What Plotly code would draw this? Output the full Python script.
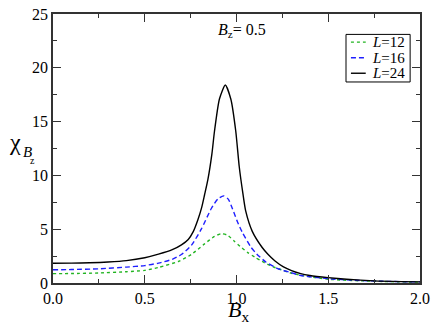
import plotly.graph_objects as go

# L=24 (black solid)
bx24 = [0.0, 0.1, 0.2, 0.3, 0.4, 0.5, 0.575, 0.65, 0.7, 0.737, 0.765, 0.79, 0.81, 0.826, 0.844, 0.866, 0.88,
        0.907, 0.939, 0.969, 0.996, 1.015, 1.035, 1.05, 1.086, 1.14, 1.17, 1.21, 1.256, 1.3, 1.35, 1.4, 1.5,
        1.6, 1.75, 1.9, 2.0]
chi24 = [1.83, 1.85, 1.88, 1.95, 2.08, 2.35, 2.68, 3.1, 3.55, 4.05, 4.8, 5.9, 7.0, 8.2, 9.6, 12.0, 14.1,
         17.1, 18.4, 17.1, 14.1, 10.8, 8.3, 6.7, 4.8, 3.3, 2.7, 2.05, 1.5, 1.15, 0.87, 0.7, 0.5,
         0.35, 0.2, 0.13, 0.1]

# L=16 (blue dashed)
bx16 = [0.0, 0.1, 0.25, 0.4, 0.5, 0.575, 0.65, 0.7, 0.754, 0.808, 0.862, 0.898, 0.93, 0.955, 0.978, 1.005,
        1.032, 1.08, 1.11, 1.16, 1.23, 1.29, 1.35, 1.5, 1.65, 1.8, 2.0]
chi16 = [1.23, 1.25, 1.32, 1.48, 1.62, 1.85, 2.2, 2.65, 3.5, 5.0, 6.9, 7.8, 8.1, 7.8, 6.9, 5.7,
         4.7, 3.3, 2.7, 1.95, 1.3, 1.0, 0.7, 0.4, 0.25, 0.16, 0.1]

# L=12 (green dotted)
bx12 = [0.0, 0.1, 0.25, 0.4, 0.5, 0.575, 0.683, 0.754, 0.826, 0.88, 0.915, 0.95, 0.987, 1.02, 1.06, 1.1,
        1.14, 1.2, 1.25, 1.3, 1.35, 1.5, 1.65, 1.8, 2.0]
chi12 = [0.87, 0.88, 0.93, 1.05, 1.17, 1.45, 2.0, 2.65, 3.64, 4.33, 4.58, 4.45, 3.9, 3.4, 2.85, 2.4,
         2.0, 1.5, 1.2, 0.9, 0.72, 0.35, 0.22, 0.14, 0.08]

labels = ["<i>L</i>=12", "<i>L</i>=16", "<i>L</i>=24"]
colors = ["#22b422", "#1f1fff", "#000000"]
dashes = ["dot", "5px,3px", "solid"]

FONT = "Times New Roman"
fig = go.Figure()
for xs, ys, lab, c, d in zip([bx12, bx16, bx24], [chi12, chi16, chi24], labels, colors, dashes):
    fig.add_trace(go.Scatter(x=xs, y=ys, mode="lines", name=lab,
                             line=dict(color=c, dash=d, width=1.4, shape="spline", smoothing=0.6),
                             showlegend=False))

W, H = 436, 327
L, R, T, B = 53, 11, 6, 44
pw, ph = W - L - R, H - T - B

def px(x): return (x - L) / pw
def py(y): return (H - B - y) / ph

shapes = []
annotations = []
# manual legend
lx0, lx1, ly0, ly1 = 350, 415, 27, 76
shapes.append(dict(type="rect", xref="paper", yref="paper", x0=px(lx0), x1=px(lx1), y0=py(ly1), y1=py(ly0),
                   line=dict(color="black", width=1), fillcolor="white", layer="above"))
rows = [35, 51, 67]
for r, lab, c, d in zip(rows, labels, colors, dashes):
    shapes.append(dict(type="line", xref="paper", yref="paper", x0=px(355), x1=px(370), y0=py(r), y1=py(r),
                       line=dict(color=c, dash=d, width=1.4), layer="above"))
    annotations.append(dict(text=lab, xref="paper", yref="paper", x=px(374), y=py(r), xanchor="left",
                            yanchor="middle", showarrow=False, font=dict(family=FONT, size=15, color="black")))

# B_z = 0.5 annotation
annotations.append(dict(text="<i>B</i><sub>z</sub>= 0.5", xref="paper", yref="paper", x=px(218), y=py(23),
                        xanchor="left", yanchor="middle", showarrow=False,
                        font=dict(family=FONT, size=16, color="black")))
# x axis title
annotations.append(dict(text="<i>B</i><sub>x</sub>", xref="paper", yref="paper", x=px(241), y=py(312),
                        xanchor="center", yanchor="middle", showarrow=False,
                        font=dict(family=FONT, size=22, color="black")))
# y axis title chi_{B_z}
annotations.append(dict(text="χ", xref="paper", yref="paper", x=px(14), y=py(138),
                        xanchor="center", yanchor="middle", showarrow=False,
                        font=dict(family=FONT, size=24, color="black")))
annotations.append(dict(text="<i>B</i>", xref="paper", yref="paper", x=px(27), y=py(148),
                        xanchor="center", yanchor="middle", showarrow=False,
                        font=dict(family=FONT, size=15, color="black")))
annotations.append(dict(text="z", xref="paper", yref="paper", x=px(32.5), y=py(157),
                        xanchor="center", yanchor="middle", showarrow=False,
                        font=dict(family=FONT, size=10, color="black")))

tickfont = dict(family=FONT, size=16, color="black")
axis_common = dict(showline=True, linecolor="#333333", linewidth=1.5, mirror="ticks", ticks="inside",
                   ticklen=8, tickwidth=1.2, tickcolor="#333333", showgrid=False, zeroline=False,
                   ticklabeloverflow="allow")
fig.update_layout(
    width=W, height=H, margin=dict(l=L, r=R, t=T, b=B),
    font=dict(family=FONT, color="black", size=16),
    plot_bgcolor="white", paper_bgcolor="white",
    xaxis=dict(range=[0, 2], dtick=0.5, tickformat=".1f",
               minor=dict(ticks="inside", ticklen=4, dtick=0.25, tickcolor="#333333", showgrid=False),
               **axis_common),
    yaxis=dict(range=[0, 25], dtick=5,
               minor=dict(ticks="inside", ticklen=4, dtick=2.5, tickcolor="#333333", showgrid=False),
               **axis_common),
    shapes=shapes, annotations=annotations,
)
fig.update_xaxes(tickfont=tickfont)
fig.update_yaxes(tickfont=tickfont)
fig.write_html("out.html", config={"displayModeBar": False},
               post_script="document.body.style.margin='0';document.body.style.padding='0';")
